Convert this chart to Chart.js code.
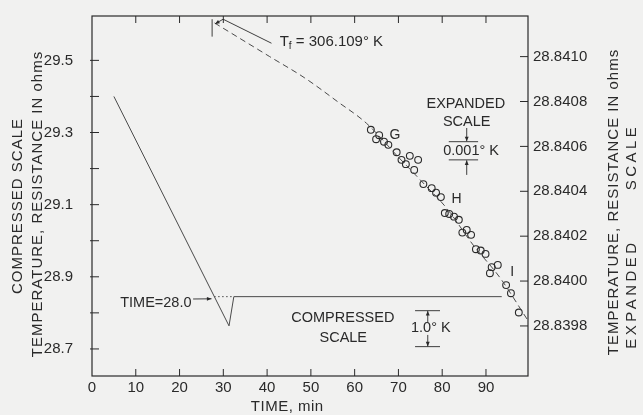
<!DOCTYPE html>
<html>
<head>
<meta charset="utf-8">
<script src="https://cdn.jsdelivr.net/npm/chart.js@4.4.1/dist/chart.umd.min.js"></script>
<style>
  html, body { margin: 0; padding: 0; background: #f1f1f0; }
  #wrap { width: 643px; height: 415px; }
</style>
</head>
<body>
<div id="wrap"><canvas id="chart" width="643" height="415"></canvas></div>
<script>
/* ---------- data ---------- */

// thermometer trace on the compressed scale (left axis, ohms)
const compTime = [5.0, 31.3, 32.4, 93.6];
const compRes  = [29.400, 28.764, 28.845, 28.845];

// dotted extension of the final level back to TIME = 28.0
const extTime = [27.9, 32.4];
const extRes  = [28.845, 28.845];

// drift curve on the expanded scale (right axis, ohms)
const fitTime = [28.0, 40.6, 48.6, 56.2, 62.7, 70.0, 76.0, 81.0, 87.1, 93.2, 99.4];
const fitRes  = [28.841150, 28.841000, 28.840905, 28.840798, 28.840703, 28.840552,
                 28.840430, 28.840325, 28.840160, 28.840015, 28.839830];

// observed readings, expanded scale
const obsTime = [63.7, 64.9, 65.6, 66.7, 67.7, 69.6, 70.7, 71.7, 72.6, 74.5, 73.6,
                 75.7, 77.6, 78.6, 79.7, 80.6, 81.6, 82.7, 83.8, 84.6, 85.6, 86.6,
                 87.7, 88.8, 89.9, 91.3, 92.7, 90.9, 94.6, 95.7, 97.5];
const obsRes  = [28.840674, 28.840632, 28.840650, 28.840621, 28.840607, 28.840574,
                 28.840540, 28.840521, 28.840558, 28.840540, 28.840495, 28.840432,
                 28.840414, 28.840394, 28.840374, 28.840303, 28.840299, 28.840287,
                 28.840273, 28.840216, 28.840228, 28.840206, 28.840142, 28.840136,
                 28.840121, 28.840062, 28.840072, 28.840035, 28.839982, 28.839946,
                 28.839860];

// axis ticks
const timeTicks    = [0, 10, 20, 30, 40, 50, 60, 70, 80, 90];
const leftTicks    = [28.7, 28.8, 28.9, 29.0, 29.1, 29.2, 29.3, 29.4, 29.5];
const leftLabelled = [28.7, 28.9, 29.1, 29.3, 29.5];
const rightTicks   = [28.8398, 28.8400, 28.8402, 28.8404, 28.8406, 28.8408, 28.8410];

/* ---------- helpers ---------- */

const FONT = '"Liberation Sans", Arial, sans-serif';
const INK = '#2a2a2a';
const LINE = '#4a4a4a';

const pts = (xs, ys) => xs.map((x, i) => ({ x: x, y: ys[i] }));

function arrow(ctx, x1, y1, x2, y2, head) {
  ctx.beginPath();
  ctx.moveTo(x1, y1);
  ctx.lineTo(x2, y2);
  ctx.stroke();
  const a = Math.atan2(y2 - y1, x2 - x1);
  ctx.beginPath();
  ctx.moveTo(x2, y2);
  ctx.lineTo(x2 - head * Math.cos(a - 0.4), y2 - head * Math.sin(a - 0.4));
  ctx.lineTo(x2 - head * Math.cos(a + 0.4), y2 - head * Math.sin(a + 0.4));
  ctx.closePath();
  ctx.fill();
}

function text(ctx, str, x, y, size, align, rot, spacing) {
  ctx.save();
  ctx.font = size + 'px ' + FONT;
  ctx.textAlign = align || 'center';
  ctx.textBaseline = 'middle';
  ctx.letterSpacing = (spacing || 0) + 'px';
  ctx.translate(x, y);
  if (rot) ctx.rotate(rot);
  ctx.fillText(str, 0, 0);
  ctx.restore();
}

function hline(ctx, x1, x2, y) {
  ctx.beginPath();
  ctx.moveTo(x1, y);
  ctx.lineTo(x2, y);
  ctx.stroke();
}

// fixed axis box sizes, no automatic label overhang padding
function fixBox(size) {
  return function (s) {
    if (s.isHorizontal()) s.height = size; else s.width = size;
    s.paddingTop = 0; s.paddingBottom = 0;
    s.paddingLeft = 0; s.paddingRight = 0;
  };
}

/* ---------- frame, inward ticks, notes and titles ---------- */

const decorations = {
  id: 'decorations',
  afterDatasetsDraw(chart) {
    const ctx = chart.ctx;
    const a = chart.chartArea;
    const sx = chart.scales.x, sl = chart.scales.y, sr = chart.scales.y2;
    const X = t => sx.getPixelForValue(t);
    const L = v => sl.getPixelForValue(v);
    const R = v => sr.getPixelForValue(v);

    ctx.save();
    ctx.strokeStyle = INK;
    ctx.fillStyle = INK;
    ctx.lineWidth = 1.2;
    ctx.strokeRect(a.left, a.top, a.right - a.left, a.bottom - a.top);

    ctx.lineWidth = 1;
    ctx.beginPath();
    timeTicks.forEach(t => {
      if (t === 0) return;
      const x = X(t);
      ctx.moveTo(x, a.bottom); ctx.lineTo(x, a.bottom - 7);
      ctx.moveTo(x, a.top);    ctx.lineTo(x, a.top + 7);
    });
    leftTicks.forEach(v => {
      const y = L(v);
      ctx.moveTo(a.left - 2, y); ctx.lineTo(a.left + 7, y);
    });
    rightTicks.forEach(v => {
      const y = R(v);
      ctx.moveTo(a.right - 8, y); ctx.lineTo(a.right, y);
    });
    ctx.stroke();

    // T_f marker and leader
    ctx.lineWidth = 0.9;
    ctx.beginPath();
    ctx.moveTo(X(27.44), R(28.8411667));
    ctx.lineTo(X(27.44), R(28.8410891));
    ctx.stroke();
    ctx.beginPath();
    ctx.moveTo(X(41.0), R(28.8410597));
    ctx.lineTo(X(29.95), R(28.8411667));
    ctx.stroke();
    arrow(ctx, X(29.95), R(28.8411667), X(28.1), R(28.8411457), 5);
    const tfx = X(42.9), tfy = R(28.841067);
    text(ctx, 'T', tfx, tfy, 15, 'left');
    text(ctx, 'f', tfx + 9, tfy + 5, 10, 'left');
    text(ctx, '= 306.109° K', tfx + 16, tfy, 15, 'left');

    // point group letters
    text(ctx, 'G', X(69.2), R(28.840651), 14);
    text(ctx, 'H', X(83.3), R(28.840365), 14);
    text(ctx, 'I', X(96.0), R(28.840038), 14);

    // expanded scale bar
    text(ctx, 'EXPANDED', X(85.4), R(28.840789), 14.5);
    text(ctx, 'SCALE', X(85.6), R(28.840710), 14.5);
    text(ctx, '0.001° K', X(86.6), R(28.840580), 14.5);
    hline(ctx, X(81.5), X(88.2), R(28.840621));
    hline(ctx, X(81.5), X(88.2), R(28.840540));
    arrow(ctx, X(85.6), R(28.840682), X(85.6), R(28.840623), 5);
    arrow(ctx, X(85.6), R(28.840473), X(85.6), R(28.840538), 5);

    // compressed scale bar
    text(ctx, 'COMPRESSED', X(57.3), L(28.785), 14.5);
    text(ctx, 'SCALE', X(57.4), L(28.7296), 14.5);
    text(ctx, '1.0° K', X(77.4), L(28.7573), 14.5);
    hline(ctx, X(73.8), X(79.5), L(28.8061));
    hline(ctx, X(73.8), X(79.5), L(28.7064));
    arrow(ctx, X(76.7), L(28.7748), X(76.7), L(28.8055), 5);
    arrow(ctx, X(76.7), L(28.7388), X(76.7), L(28.7070), 5);

    // TIME = 28.0 pointer
    text(ctx, 'TIME=28.0', X(22.73), L(28.8266), 14.5, 'right');
    arrow(ctx, X(23.1), L(28.8385), X(27.3), L(28.8390), 5);

    // axis titles
    const up = -Math.PI / 2;
    text(ctx, 'COMPRESSED SCALE', a.left - 74, 206, 15, 'center', up, 1);
    text(ctx, 'TEMPERATURE, RESISTANCE IN ohms', a.left - 54, 204, 15, 'center', up, 1);
    text(ctx, 'TEMPERATURE, RESISTANCE IN ohms', a.right + 86, 202, 15, 'center', up, 1);
    text(ctx, 'EXPANDED', a.right + 104, 294, 15, 'center', up, 3.5);
    text(ctx, 'SCALE', a.right + 104, 157, 15, 'center', up, 3.5);
    text(ctx, 'TIME, min', X(44.6), a.bottom + 31, 15, 'center', 0, 0.5);
    ctx.restore();
  }
};

/* ---------- chart ---------- */

const tickFont = { family: FONT, size: 15 };
const noGrid = { display: false, drawTicks: false };

new Chart(document.getElementById('chart').getContext('2d'), {
  type: 'scatter',
  data: {
    datasets: [
      {
        data: pts(compTime, compRes), yAxisID: 'y', showLine: true,
        borderColor: LINE, borderWidth: 1, pointRadius: 0, tension: 0
      },
      {
        data: pts(extTime, extRes), yAxisID: 'y', showLine: true,
        borderColor: LINE, borderWidth: 1, borderDash: [1.5, 2.5], pointRadius: 0
      },
      {
        data: pts(fitTime, fitRes), yAxisID: 'y2', showLine: true,
        borderColor: LINE, borderWidth: 1, borderDash: [6, 4], pointRadius: 0,
        cubicInterpolationMode: 'monotone'
      },
      {
        data: pts(obsTime, obsRes), yAxisID: 'y2', showLine: false,
        pointRadius: 3.4, pointBorderWidth: 1.1,
        pointBorderColor: INK, pointBackgroundColor: 'rgba(0,0,0,0)'
      }
    ]
  },
  options: {
    responsive: false,
    animation: false,
    devicePixelRatio: 1,
    layout: { padding: { top: 16, left: 0, right: 0, bottom: 0 } },
    plugins: { legend: { display: false }, tooltip: { enabled: false } },
    scales: {
      x: {
        type: 'linear', position: 'bottom', min: 0, max: 99.6,
        afterFit: fixBox(39),
        afterBuildTicks(s) { s.ticks = timeTicks.map(v => ({ value: v })); },
        grid: noGrid, border: { display: false },
        ticks: { font: tickFont, color: INK, padding: 3, maxRotation: 0, autoSkip: false,
                 callback: v => String(v) }
      },
      y: {
        position: 'left', min: 28.625, max: 29.623,
        afterFit: fixBox(92),
        afterBuildTicks(s) { s.ticks = leftTicks.map(v => ({ value: v })); },
        grid: noGrid, border: { display: false },
        ticks: { font: tickFont, color: INK, padding: 19, autoSkip: false,
                 callback: v => leftLabelled.some(l => Math.abs(l - v) < 1e-6) ? v.toFixed(1) : '' }
      },
      y2: {
        position: 'right', min: 28.839577, max: 28.841181,
        afterFit: fixBox(115),
        afterBuildTicks(s) { s.ticks = rightTicks.map(v => ({ value: v })); },
        grid: noGrid, border: { display: false },
        ticks: { font: tickFont, color: INK, padding: 5, autoSkip: false,
                 callback: v => v.toFixed(4) }
      }
    }
  },
  plugins: [decorations]
});
</script>
</body>
</html>
